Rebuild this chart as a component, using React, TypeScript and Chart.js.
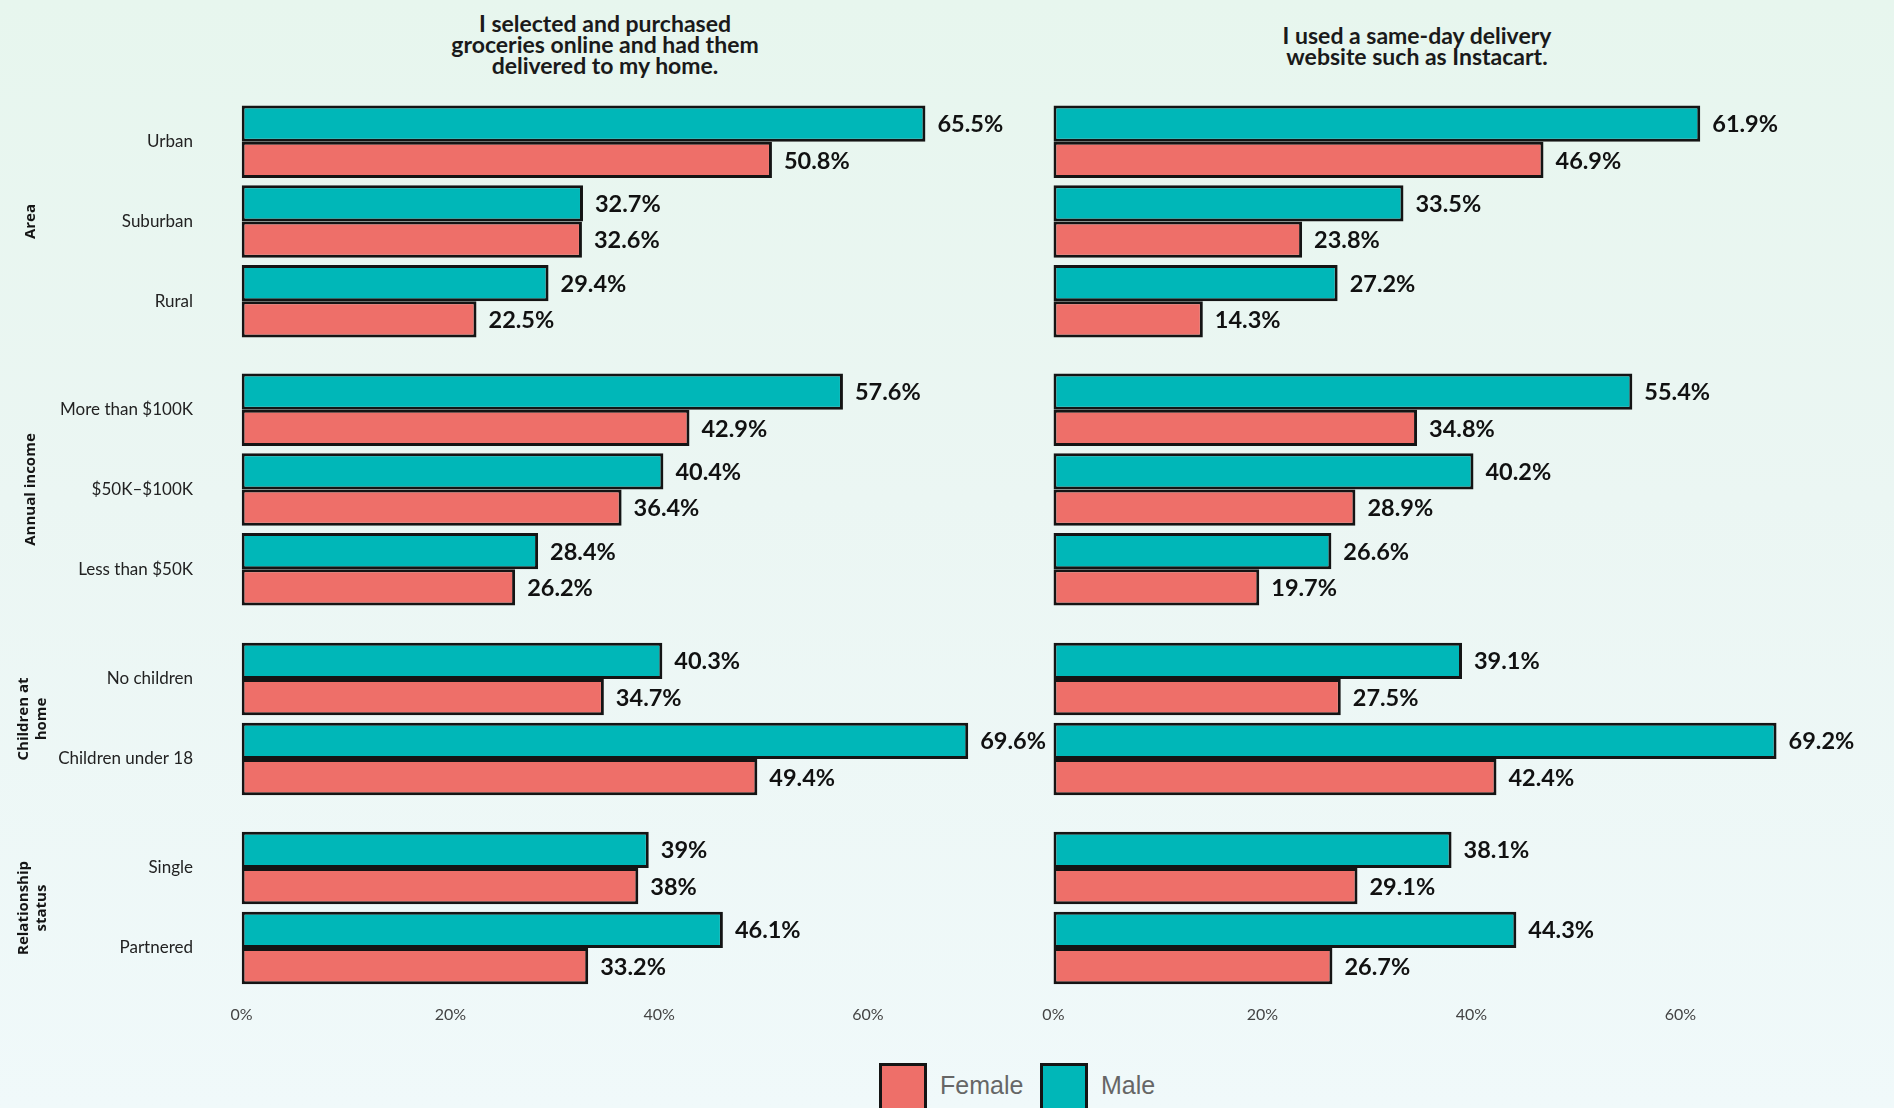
import React, { useEffect, useRef } from 'react';
import { Chart, registerables } from 'chart.js';

Chart.register(...registerables);

// ---------- data ----------
const panelTitles = [
  ['I selected and purchased', 'groceries online and had them', 'delivered to my home.'],
  ['I used a same-day delivery', 'website such as Instacart.'],
];
const sectionTitles = [['Area'], ['Annual income'], ['Children at', 'home'], ['Relationship', 'status']];
const areaLabels = ['Urban', 'Suburban', 'Rural'];
const incomeLabels = ['More than $100K', '$50K–$100K', 'Less than $50K'];
const childrenLabels = ['No children', 'Children under 18'];
const relationshipLabels = ['Single', 'Partnered'];
const sectionLabels = [areaLabels, incomeLabels, childrenLabels, relationshipLabels];

// values follow the order of the category lists above (Area, Annual income, Children, Relationship)
const groceriesMale = [65.5, 32.7, 29.4, 57.6, 40.4, 28.4, 40.3, 69.6, 39, 46.1];
const groceriesFemale = [50.8, 32.6, 22.5, 42.9, 36.4, 26.2, 34.7, 49.4, 38, 33.2];
const sameDayMale = [61.9, 33.5, 27.2, 55.4, 40.2, 26.6, 39.1, 69.2, 38.1, 44.3];
const sameDayFemale = [46.9, 23.8, 14.3, 34.8, 28.9, 19.7, 27.5, 42.4, 29.1, 26.7];
const seriesNames = ['Male', 'Female'];
const legendOrder = ['Female', 'Male'];
const xMax = 70;
const xStep = 20;

// ---------- styles ----------
const TEAL = '#00B7B8';
const RED = '#EE6F69';
const BORDER = '#141414';
const SERIES_COLORS: Record<string, string> = { Male: TEAL, Female: RED };

const PANELS = [
  { canvasLeft: 0, canvasWidth: 1060, plotLeft: 241.6, plotWidth: 730.8 },
  { canvasLeft: 1000, canvasWidth: 894, plotLeft: 53.4, plotWidth: 731.5 },
];
const SECTION_TOPS = [102, 370, 639, 828];
const SECTION_HEIGHTS = [239, 239, 160, 160];
const AXIS_H = 52;
const TITLE_PAD = [21, 21, 14, 14];

const valueLabels = {
  id: 'valueLabels',
  afterDatasetsDraw(chart: any) {
    const ctx = chart.ctx;
    ctx.save();
    ctx.font = 'bold 23.5px Lato';
    ctx.fillStyle = '#111';
    ctx.textAlign = 'left';
    ctx.textBaseline = 'middle';
    chart.data.datasets.forEach((ds: any, di: number) => {
      const meta = chart.getDatasetMeta(di);
      meta.data.forEach((bar: any, i: number) => {
        ctx.fillText(`${ds.data[i]}%`, bar.x + 12, bar.y + 1);
      });
    });
    ctx.restore();
  },
};

function SectionChart({ panel, section, male, female }: { panel: number; section: number; male: number[]; female: number[] }) {
  const ref = useRef<HTMLCanvasElement>(null);
  const geo = PANELS[panel];
  const isLast = section === SECTION_TOPS.length - 1;
  const height = SECTION_HEIGHTS[section] + (isLast ? AXIS_H : 0);

  useEffect(() => {
    if (!ref.current) return;
    const rightPad = geo.canvasWidth - geo.plotLeft - geo.plotWidth;
    const chart = new Chart(ref.current, {
      type: 'bar',
      data: {
        labels: sectionLabels[section],
        datasets: [
          {
            label: seriesNames[0],
            data: male,
            backgroundColor: SERIES_COLORS[seriesNames[0]],
            borderColor: BORDER,
            borderWidth: 3,
            borderSkipped: false,
            categoryPercentage: 0.909,
            barPercentage: 1,
          },
          {
            label: seriesNames[1],
            data: female,
            backgroundColor: SERIES_COLORS[seriesNames[1]],
            borderColor: BORDER,
            borderWidth: 3,
            borderSkipped: false,
            categoryPercentage: 0.909,
            barPercentage: 1,
          },
        ],
      },
      options: {
        indexAxis: 'y',
        responsive: false,
        animation: false,
        devicePixelRatio: 1,
        layout: {
          padding: { left: panel === 0 ? 0 : geo.plotLeft, right: rightPad, top: 0, bottom: 0 },
        },
        plugins: { legend: { display: false }, tooltip: { enabled: false }, title: { display: false } },
        scales: {
          x: {
            type: 'linear',
            min: 0,
            max: xMax,
            display: isLast,
            grid: { display: false, drawTicks: false },
            border: { display: false },
            ticks: {
              stepSize: xStep,
              padding: 17,
              color: '#444',
              font: { family: 'Lato', size: 16 },
              callback: (v: any) => `${v}%`,
            },
            afterBuildTicks: (scale: any) => {
              scale.ticks = scale.ticks.filter((t: any) => t.value % xStep === 0);
            },
            afterFit: (scale: any) => {
              if (isLast) scale.height = AXIS_H;
            },
          },
          y: {
            type: 'category',
            display: panel === 0,
            grid: { display: false, drawTicks: false },
            border: { display: false },
            ticks: {
              padding: 48.6,
              color: '#222',
              font: { family: 'Lato', size: 17 },
            },
            title: {
              display: true,
              text: sectionTitles[section],
              color: '#151515',
              font: { family: "'Open Sans'", size: 15, weight: 'bold', lineHeight: 1.25 },
              padding: { top: TITLE_PAD[section], bottom: 0 },
            },
            afterFit: (scale: any) => {
              if (panel === 0) scale.width = geo.plotLeft;
              scale.paddingTop = 0;
              scale.paddingBottom = 0;
            },
          },
        },
      },
      plugins: [valueLabels],
    } as any);
    return () => chart.destroy();
  }, [panel, section, male, female]);

  return (
    <canvas
      ref={ref}
      width={geo.canvasWidth}
      height={height}
      style={{
        position: 'absolute',
        left: geo.canvasLeft,
        top: SECTION_TOPS[section],
        width: geo.canvasWidth,
        height,
        display: 'block',
      }}
    />
  );
}

export default function App() {
  const sizes = sectionLabels.map((l) => l.length);
  const offsets = sizes.map((_, i) => sizes.slice(0, i).reduce((a, b) => a + b, 0));
  const panelSeries = [
    [groceriesMale, groceriesFemale],
    [sameDayMale, sameDayFemale],
  ];
  const titleCenters = [605, 1417];
  const titleTops = [12.5, 25];

  return (
    <div
      style={{
        position: 'absolute',
        left: 0,
        top: 0,
        width: 1894,
        height: 1108,
        overflow: 'hidden',
        background: 'linear-gradient(to bottom, #e7f6ee 0%, #ebf6f3 45%, #f0f9fa 100%)',
      }}
    >
      {panelTitles.map((lines, p) => (
        <div
          key={'t' + p}
          style={{
            position: 'absolute',
            left: titleCenters[p] - 250,
            top: titleTops[p],
            width: 500,
            textAlign: 'center',
            fontFamily: 'Lato',
            fontWeight: 700,
            fontSize: 23,
            lineHeight: '21px',
            color: '#1a1a1a',
          }}
        >
          {lines.map((l, i) => (
            <div key={i}>{l}</div>
          ))}
        </div>
      ))}
      {[0, 1].map((p) =>
        sectionLabels.map((labels, s) => (
          <SectionChart
            key={`c${p}-${s}`}
            panel={p}
            section={s}
            male={panelSeries[p][0].slice(offsets[s], offsets[s] + labels.length)}
            female={panelSeries[p][1].slice(offsets[s], offsets[s] + labels.length)}
          />
        ))
      )}
      {legendOrder.map((name, i) => (
        <div key={name}>
          <div
            style={{
              position: 'absolute',
              left: [879, 1040][i],
              top: 1063,
              width: 48,
              height: 48,
              boxSizing: 'border-box',
              border: `3px solid ${BORDER}`,
              background: SERIES_COLORS[name],
            }}
          />
          <div
            style={{
              position: 'absolute',
              left: [940, 1101][i],
              top: 1070,
              height: 30,
              lineHeight: '30px',
              fontFamily: "'Liberation Sans', Arial, sans-serif",
              fontSize: 25,
              color: '#666',
            }}
          >
            {name}
          </div>
        </div>
      ))}
    </div>
  );
}
